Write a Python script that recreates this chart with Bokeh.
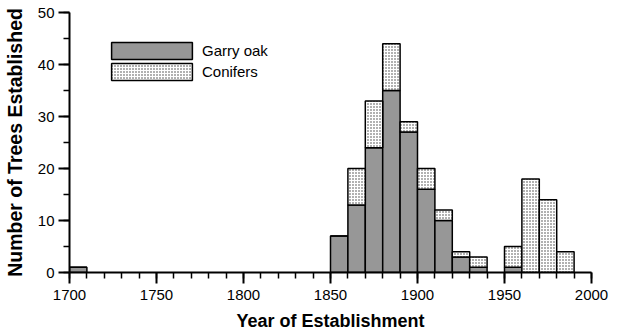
from bokeh.plotting import figure
from bokeh.models import Range1d, SingleIntervalTicker, Legend, LegendItem, ColumnDataSource
from bokeh.embed import file_html
from bokeh.resources import INLINE

# Decade bins (left edge) with trees established per bin
bin_start = [1700, 1850, 1860, 1870, 1880, 1890, 1900, 1910, 1920, 1930, 1950, 1960, 1970, 1980]
garry_oak = [1, 7, 13, 24, 35, 27, 16, 10, 3, 1, 1, 0, 0, 0]
conifers = [0, 0, 7, 9, 9, 2, 4, 2, 1, 2, 4, 18, 14, 4]
bin_width = 10

FONT = "Liberation Sans"

oak_src = ColumnDataSource(dict(
    left=bin_start,
    right=[b + bin_width for b in bin_start],
    bottom=[0] * len(bin_start),
    top=garry_oak,
))
con_src = ColumnDataSource(dict(
    left=bin_start,
    right=[b + bin_width for b in bin_start],
    bottom=garry_oak,
    top=[o + c for o, c in zip(garry_oak, conifers)],
))

p = figure(width=619, height=335, output_backend="svg", toolbar_location=None,
           x_range=Range1d(1700, 2000), y_range=Range1d(0, 50),
           min_border_left=69, min_border_right=28, min_border_top=12, min_border_bottom=63)
p.outline_line_color = None
p.grid.visible = False
p.background_fill_color = "white"
p.border_fill_color = "white"

oak_r = p.quad(left="left", right="right", bottom="bottom", top="top", source=oak_src,
               fill_color="#979797", line_color="black", line_width=1.5)
con_r = p.quad(left="left", right="right", bottom="bottom", top="top", source=con_src,
               fill_color="white", hatch_pattern="dot", hatch_color="#3a3a3a",
               hatch_scale=3, hatch_weight=1, line_color="black", line_width=1.5)

# Axes: ticks point outward, minor ticks every 10 years / 5 trees
for ax in (p.xaxis[0], p.yaxis[0]):
    ax.axis_line_width = 2
    ax.axis_line_color = "black"
    ax.major_tick_line_width = 2
    ax.major_tick_line_color = "black"
    ax.minor_tick_line_width = 1.5
    ax.minor_tick_line_color = "black"
    ax.major_tick_out = 11
    ax.major_tick_in = 0
    ax.minor_tick_out = 6
    ax.minor_tick_in = 0
    ax.major_label_text_font = FONT
    ax.major_label_text_font_size = "15px"
    ax.major_label_text_color = "black"
    ax.axis_label_text_font = FONT
    ax.axis_label_text_font_style = "bold"
    ax.axis_label_text_color = "black"

p.xaxis.ticker = SingleIntervalTicker(interval=50, num_minor_ticks=5)
p.yaxis.ticker = SingleIntervalTicker(interval=10, num_minor_ticks=2)
p.xaxis.axis_label = "Year of Establishment"
p.yaxis.axis_label = "Number of Trees Established"
p.xaxis.axis_label_text_font_size = "18px"
p.yaxis.axis_label_text_font_size = "19.5px"
p.xaxis.major_label_standoff = 6
p.yaxis.major_label_standoff = 4
p.xaxis.axis_label_standoff = 8
p.yaxis.axis_label_standoff = 9

# Legend swatches are inset 10% inside their glyph box
legend = Legend(items=[LegendItem(label="Garry oak", renderers=[oak_r]),
                       LegendItem(label="Conifers", renderers=[con_r])],
                location=(32, 190), orientation="vertical",
                glyph_width=101, glyph_height=21, label_height=21, spacing=0,
                label_standoff=0, padding=0, margin=0,
                border_line_alpha=0, background_fill_alpha=0,
                label_text_font=FONT, label_text_font_size="15px",
                label_text_color="black")
p.add_layout(legend)

open("out.html", "w").write(file_html(p, INLINE))
